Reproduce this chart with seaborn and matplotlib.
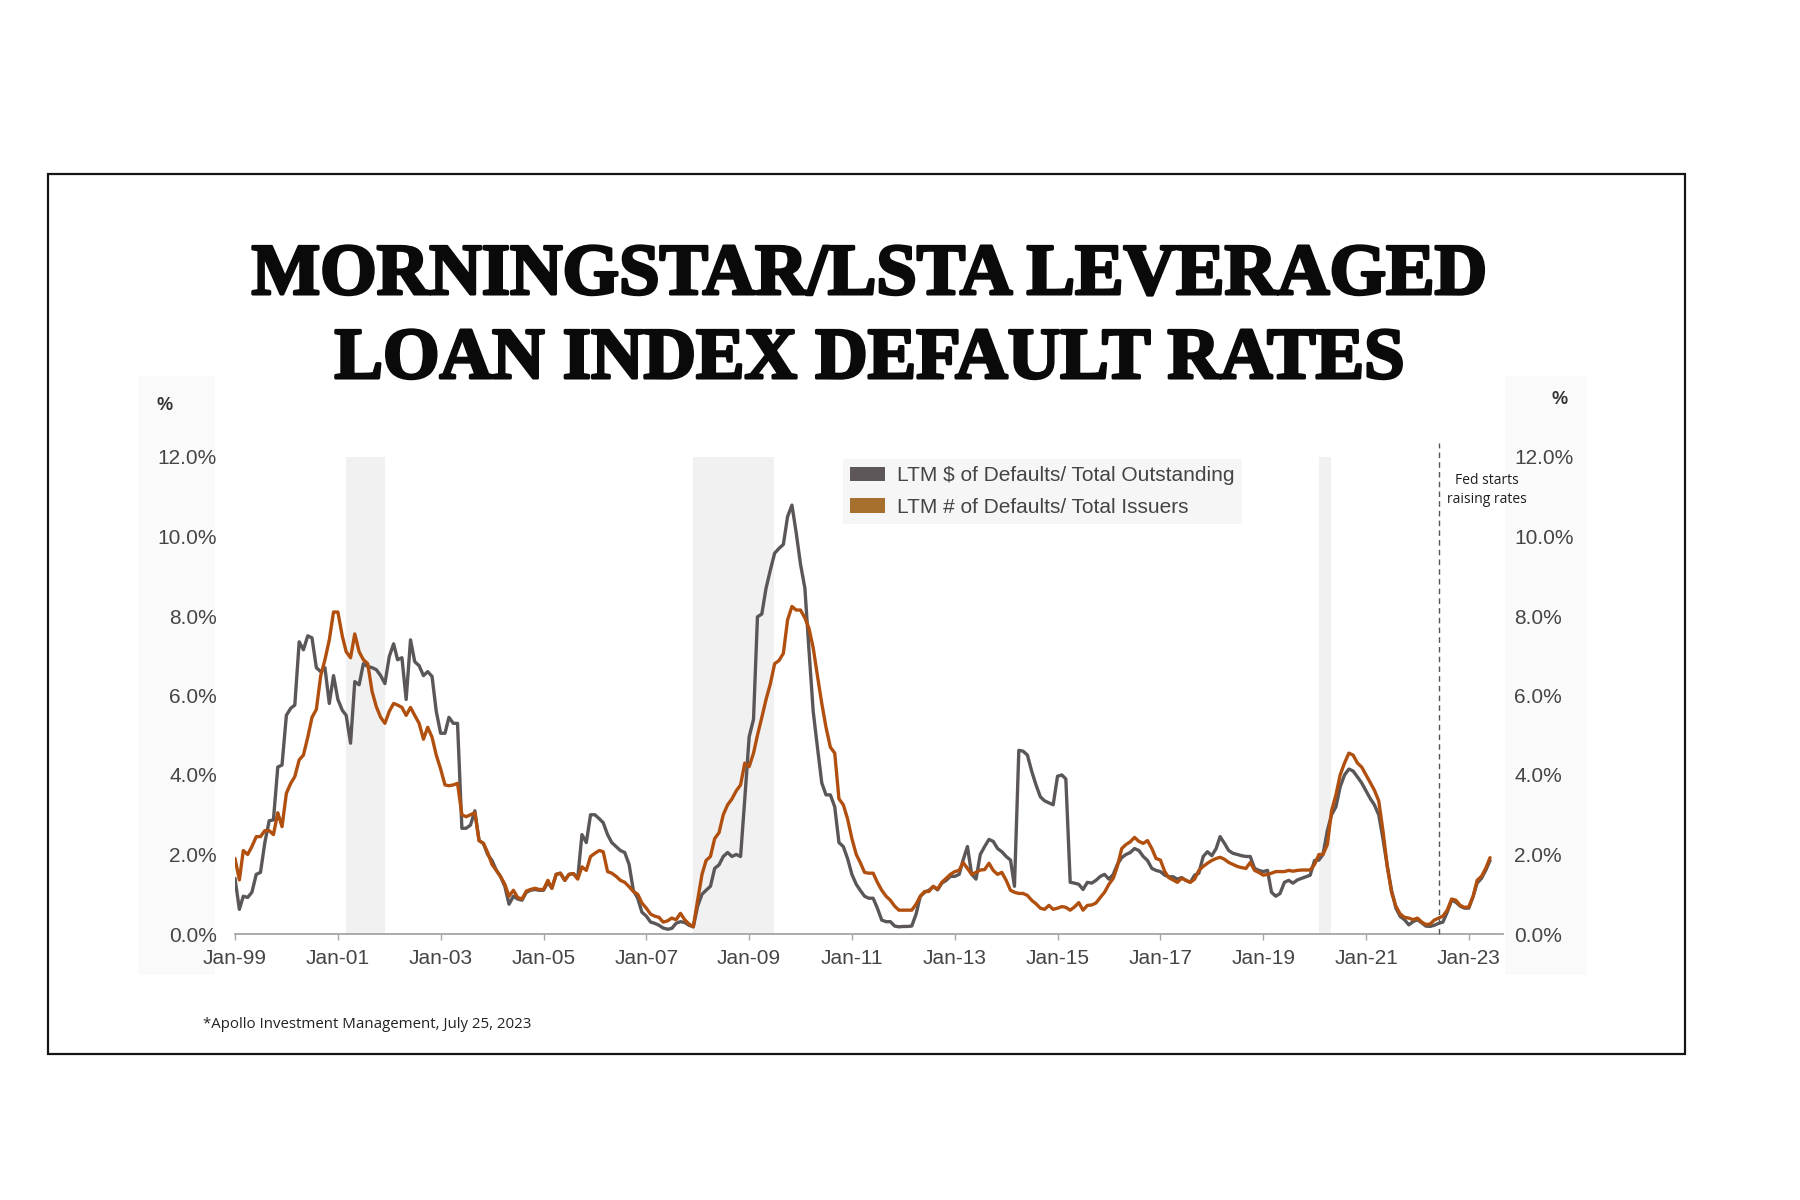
import numpy as np
import pandas as pd
import matplotlib
matplotlib.use("Agg")
import matplotlib.pyplot as plt
import matplotlib.patheffects as pe
import seaborn as sns
from matplotlib.patches import Rectangle, Patch

# ---------------- data (monthly, Jan-1999 .. Jun-2023) ----------------
# LTM $ of Defaults / Total Outstanding (%)
G1999 = [1.40, 0.62, 0.95, 0.92, 1.05, 1.50, 1.55, 2.30, 2.85, 2.87, 4.20, 4.25]
G2000 = [5.50, 5.68, 5.76, 7.35, 7.15, 7.50, 7.45, 6.70, 6.60, 6.70, 5.80, 6.50]
G2001 = [5.90, 5.63, 5.50, 4.80, 6.35, 6.27, 6.80, 6.73, 6.70, 6.65, 6.50, 6.30]
G2002 = [6.98, 7.30, 6.90, 6.95, 5.90, 7.40, 6.85, 6.75, 6.50, 6.60, 6.48, 5.60]
G2003 = [5.05, 5.05, 5.45, 5.30, 5.30, 2.66, 2.66, 2.74, 3.10, 2.35, 2.28, 2.00]
G2004 = [1.85, 1.60, 1.45, 1.20, 0.75, 0.95, 0.88, 0.85, 1.05, 1.10, 1.12, 1.10]
G2005 = [1.10, 1.30, 1.15, 1.50, 1.53, 1.35, 1.50, 1.52, 1.40, 2.50, 2.30, 3.00]
G2006 = [3.00, 2.90, 2.80, 2.50, 2.30, 2.20, 2.10, 2.05, 1.75, 1.10, 0.90, 0.55]
G2007 = [0.45, 0.30, 0.27, 0.22, 0.15, 0.12, 0.14, 0.27, 0.31, 0.29, 0.22, 0.18]
G2008 = [0.70, 1.00, 1.10, 1.20, 1.65, 1.74, 1.95, 2.05, 1.95, 2.00, 1.95, 3.40]
G2009 = [4.96, 5.40, 7.98, 8.05, 8.70, 9.16, 9.58, 9.70, 9.80, 10.50, 10.79, 10.10]
G2010 = [9.30, 8.70, 7.20, 5.60, 4.70, 3.80, 3.50, 3.50, 3.20, 2.30, 2.20, 1.90]
G2011 = [1.50, 1.25, 1.10, 0.95, 0.90, 0.90, 0.65, 0.35, 0.31, 0.31, 0.20, 0.18]
G2012 = [0.19, 0.19, 0.20, 0.50, 0.95, 1.05, 1.10, 1.19, 1.11, 1.28, 1.35, 1.45]
G2013 = [1.45, 1.50, 1.86, 2.20, 1.50, 1.38, 2.00, 2.20, 2.38, 2.33, 2.15, 2.07]
G2014 = [1.95, 1.86, 1.20, 4.62, 4.60, 4.50, 4.10, 3.75, 3.45, 3.35, 3.30, 3.25]
G2015 = [3.97, 4.00, 3.90, 1.30, 1.28, 1.25, 1.12, 1.30, 1.28, 1.35, 1.45, 1.50]
G2016 = [1.38, 1.50, 1.75, 1.92, 2.00, 2.05, 2.15, 2.10, 1.95, 1.85, 1.65, 1.60]
G2017 = [1.57, 1.48, 1.44, 1.44, 1.38, 1.42, 1.35, 1.30, 1.48, 1.53, 1.95, 2.07]
G2018 = [1.97, 2.15, 2.45, 2.28, 2.10, 2.03, 2.00, 1.97, 1.95, 1.95, 1.65, 1.60]
G2019 = [1.57, 1.60, 1.05, 0.95, 1.02, 1.30, 1.35, 1.28, 1.36, 1.40, 1.44, 1.48]
G2020 = [1.85, 1.86, 2.00, 2.60, 3.00, 3.20, 3.70, 4.00, 4.15, 4.10, 3.95, 3.80]
G2021 = [3.60, 3.40, 3.25, 3.00, 2.40, 1.70, 1.10, 0.65, 0.44, 0.36, 0.23, 0.31]
G2022 = [0.36, 0.28, 0.20, 0.19, 0.22, 0.27, 0.30, 0.55, 0.85, 0.80, 0.70, 0.65]
G2023 = [0.65, 0.95, 1.28, 1.40, 1.60, 1.85]

# LTM # of Defaults / Total Issuers (%)
O1999 = [1.90, 1.36, 2.10, 2.00, 2.20, 2.45, 2.45, 2.60, 2.60, 2.50, 3.05, 2.70]
O2000 = [3.54, 3.79, 3.96, 4.38, 4.50, 4.95, 5.45, 5.65, 6.50, 6.90, 7.40, 8.10]
O2001 = [8.10, 7.50, 7.10, 6.95, 7.55, 7.10, 6.90, 6.80, 6.10, 5.72, 5.45, 5.30]
O2002 = [5.60, 5.80, 5.76, 5.70, 5.50, 5.70, 5.50, 5.30, 4.90, 5.20, 4.95, 4.50]
O2003 = [4.15, 3.75, 3.73, 3.75, 3.79, 3.00, 2.95, 3.00, 3.05, 2.35, 2.28, 2.05]
O2004 = [1.75, 1.60, 1.45, 1.25, 0.95, 1.10, 0.92, 0.88, 1.08, 1.12, 1.15, 1.12]
O2005 = [1.12, 1.35, 1.15, 1.50, 1.53, 1.35, 1.50, 1.52, 1.38, 1.69, 1.60, 1.95]
O2006 = [2.03, 2.10, 2.07, 1.57, 1.53, 1.45, 1.35, 1.30, 1.19, 1.07, 1.00, 0.78]
O2007 = [0.65, 0.50, 0.45, 0.42, 0.30, 0.33, 0.40, 0.36, 0.52, 0.36, 0.25, 0.18]
O2008 = [0.85, 1.50, 1.85, 1.95, 2.40, 2.55, 3.00, 3.25, 3.40, 3.60, 3.75, 4.30]
O2009 = [4.21, 4.55, 5.00, 5.45, 5.90, 6.30, 6.80, 6.88, 7.06, 7.90, 8.24, 8.15]
O2010 = [8.15, 7.95, 7.70, 7.20, 6.50, 5.80, 5.20, 4.70, 4.55, 3.40, 3.25, 2.90]
O2011 = [2.40, 2.00, 1.80, 1.55, 1.53, 1.53, 1.30, 1.10, 0.95, 0.85, 0.70, 0.60]
O2012 = [0.60, 0.60, 0.60, 0.75, 0.95, 1.07, 1.07, 1.20, 1.13, 1.30, 1.40, 1.50]
O2013 = [1.57, 1.60, 1.80, 1.65, 1.50, 1.55, 1.61, 1.62, 1.78, 1.60, 1.50, 1.55]
O2014 = [1.35, 1.10, 1.05, 1.02, 1.02, 0.97, 0.85, 0.76, 0.65, 0.62, 0.72, 0.62]
O2015 = [0.65, 0.69, 0.67, 0.60, 0.68, 0.79, 0.60, 0.72, 0.73, 0.78, 0.92, 1.05]
O2016 = [1.25, 1.40, 1.70, 2.15, 2.25, 2.32, 2.43, 2.33, 2.28, 2.35, 2.15, 1.90]
O2017 = [1.86, 1.57, 1.42, 1.36, 1.30, 1.40, 1.35, 1.30, 1.38, 1.60, 1.70, 1.78]
O2018 = [1.85, 1.90, 1.93, 1.88, 1.80, 1.75, 1.70, 1.67, 1.65, 1.80, 1.60, 1.55]
O2019 = [1.48, 1.50, 1.53, 1.57, 1.57, 1.57, 1.60, 1.58, 1.60, 1.61, 1.61, 1.61]
O2020 = [1.75, 2.00, 2.00, 2.25, 3.10, 3.50, 4.00, 4.30, 4.55, 4.50, 4.30, 4.20]
O2021 = [4.00, 3.80, 3.62, 3.35, 2.60, 1.70, 1.05, 0.70, 0.50, 0.42, 0.40, 0.36]
O2022 = [0.40, 0.30, 0.24, 0.25, 0.35, 0.40, 0.45, 0.60, 0.88, 0.85, 0.72, 0.67]
O2023 = [0.68, 0.95, 1.35, 1.45, 1.65, 1.92]

START_MONTH = "1999-01-01"
SERIES_NAMES = ["LTM $ of Defaults/ Total Outstanding", "LTM # of Defaults/ Total Issuers"]
X_TICK_LABELS = ["Jan-99", "Jan-01", "Jan-03", "Jan-05", "Jan-07", "Jan-09", "Jan-11",
                 "Jan-13", "Jan-15", "Jan-17", "Jan-19", "Jan-21", "Jan-23"]
X_TICK_DATES = ["1999-01-01", "2001-01-01", "2003-01-01", "2005-01-01", "2007-01-01",
                "2009-01-01", "2011-01-01", "2013-01-01", "2015-01-01", "2017-01-01",
                "2019-01-01", "2021-01-01", "2023-01-01"]
Y_TICKS = [0, 2, 4, 6, 8, 10, 12]
Y_TICK_LABELS = ["0.0%", "2.0%", "4.0%", "6.0%", "8.0%", "10.0%", "12.0%"]
RECESSIONS = [("2001-03-01", "2001-11-30"), ("2007-12-01", "2009-06-30"), ("2020-02-01", "2020-04-30")]
FED_HIKE_DATE = "2022-06-01"
FED_LABEL = "Fed starts\nraising rates"
TITLE_LINES = ["MORNINGSTAR/LSTA LEVERAGED", "LOAN INDEX DEFAULT RATES"]
SOURCE = "*Apollo Investment Management, July 25, 2023"

dollar = (G1999 + G2000 + G2001 + G2002 + G2003 + G2004 + G2005 + G2006 + G2007 + G2008 +
          G2009 + G2010 + G2011 + G2012 + G2013 + G2014 + G2015 + G2016 + G2017 + G2018 +
          G2019 + G2020 + G2021 + G2022 + G2023)
count = (O1999 + O2000 + O2001 + O2002 + O2003 + O2004 + O2005 + O2006 + O2007 + O2008 +
         O2009 + O2010 + O2011 + O2012 + O2013 + O2014 + O2015 + O2016 + O2017 + O2018 +
         O2019 + O2020 + O2021 + O2022 + O2023)

dates = pd.date_range(START_MONTH, periods=len(dollar), freq="MS")
df = pd.DataFrame({"date": dates, "dollar": dollar, "count": count})

# ---------------- styling ----------------
GRAY_LINE = "#5b5658"
RUST_LINE = "#b14f0e"
GRAY_PATCH = "#5d575a"
BROWN_PATCH = "#a66f2e"
SHADE = "#f1f1f1"
TICK_COL = "#454545"

sns.set_theme(style="white")
plt.rcParams["font.family"] = ["Liberation Sans", "DejaVu Sans"]

W, H = 1800, 1200
fig = plt.figure(figsize=(18, 12), dpi=100)
fig.patch.set_facecolor("white")


def fx(x):
    return x / W


def fy(y):
    return 1 - y / H


# outer frame
fig.add_artist(Rectangle((fx(48), fy(1054)), (1685 - 48) / W, (1054 - 174) / H,
                         transform=fig.transFigure, fill=False, edgecolor="#151515",
                         lw=1.6, zorder=-5))
# light panel of the pasted chart
fig.add_artist(Rectangle((fx(138), fy(975)), (1587 - 138) / W, (975 - 376) / H,
                         transform=fig.transFigure, facecolor="#fafafa",
                         edgecolor="none", zorder=-4))
fig.add_artist(Rectangle((fx(215), fy(975)), (1505 - 215) / W, (975 - 376) / H,
                         transform=fig.transFigure, facecolor="white",
                         edgecolor="none", zorder=-3))

ax = fig.add_axes([fx(235), fy(934), (1503 - 235) / W, (934 - 457) / H])
ax.set_facecolor("none")
ax.set_zorder(1)

for s, e in RECESSIONS:
    ax.axvspan(pd.Timestamp(s), pd.Timestamp(e), color=SHADE, lw=0, zorder=0)

sns.lineplot(data=df, x="date", y="dollar", ax=ax, color=GRAY_LINE, lw=2.4,
             estimator=None, zorder=3)
sns.lineplot(data=df, x="date", y="count", ax=ax, color=RUST_LINE, lw=2.4,
             estimator=None, zorder=4)

ax.set_xlim(pd.Timestamp("1999-01-01"), pd.Timestamp("2023-09-01"))
ax.set_ylim(0, 12)
ax.set_xlabel("")
ax.set_ylabel("")
ax.set_xticks([pd.Timestamp(d) for d in X_TICK_DATES])
ax.set_xticklabels(X_TICK_LABELS)
ax.set_yticks(Y_TICKS)
ax.set_yticklabels(Y_TICK_LABELS)
for side in ["top", "left", "right"]:
    ax.spines[side].set_visible(False)
ax.spines["bottom"].set_color("#a5a5a5")
ax.spines["bottom"].set_linewidth(1.3)
ax.tick_params(axis="x", length=4, width=1, color="#a5a5a5", pad=7,
               labelsize=15, labelcolor=TICK_COL, bottom=True)
ax.tick_params(axis="y", length=0, pad=13, labelsize=15, labelcolor=TICK_COL)
ax.grid(False)

ax2 = ax.twinx()
ax2.set_ylim(0, 12)
ax2.set_yticks(Y_TICKS)
ax2.set_yticklabels(Y_TICK_LABELS)
ax2.tick_params(axis="y", length=0, pad=8, labelsize=15, labelcolor=TICK_COL)
for side in ["top", "left", "right", "bottom"]:
    ax2.spines[side].set_visible(False)
ax2.grid(False)
ax2.set_ylabel("")

# Fed marker
fed = pd.Timestamp(FED_HIKE_DATE)
ax.plot([fed, fed], [0, 12.35], ls=(0, (4, 3)), color="#555555", lw=1.0,
        clip_on=False, zorder=5)
fig.text(fx(1487), fy(490), FED_LABEL, ha="center", va="center", fontsize=10,
         family=["Open Sans", "DejaVu Sans"], color="#1e1e1e", linespacing=1.3)

# legend
handles = [Patch(facecolor=GRAY_PATCH, edgecolor="none", label=SERIES_NAMES[0]),
           Patch(facecolor=BROWN_PATCH, edgecolor="none", label=SERIES_NAMES[1])]
leg = fig.legend(handles=handles, loc="upper left", bbox_to_anchor=(fx(843), fy(459)),
                 frameon=True, fancybox=False, facecolor="#f6f6f6", edgecolor="none",
                 framealpha=1, fontsize=15, handlelength=1.65, handleheight=0.66,
                 handletextpad=0.6, labelspacing=0.6, borderpad=0.35, borderaxespad=0)
for t in leg.get_texts():
    t.set_color("#444444")

# % unit labels
fig.text(fx(165), fy(406), "%", ha="center", va="center", fontsize=13,
         weight="bold", color="#333333")
fig.text(fx(1560), fy(399), "%", ha="center", va="center", fontsize=13,
         weight="bold", color="#333333")

# title
stroke = [pe.withStroke(linewidth=2.2, foreground="#0a0a0a")]
t1 = fig.text(fx(870), fy(294), TITLE_LINES[0], ha="center", va="baseline",
              fontsize=52, weight="bold", family=["Liberation Serif", "DejaVu Serif"],
              color="#0a0a0a")
fig.canvas.draw()
w1 = t1.get_window_extent().width
size = 52 * 1236 / w1
t1.set_fontsize(size)
t1.set_path_effects(stroke)
t2 = fig.text(fx(870), fy(378), TITLE_LINES[1], ha="center", va="baseline",
              fontsize=size, weight="bold", family=["Liberation Serif", "DejaVu Serif"],
              color="#0a0a0a")
t2.set_path_effects(stroke)

# source
fig.text(fx(203), fy(1024), SOURCE, ha="left", va="center", fontsize=10.8,
         family=["Open Sans", "DejaVu Sans"], weight="medium", color="#222222")

fig.savefig("out.png", dpi=100)
